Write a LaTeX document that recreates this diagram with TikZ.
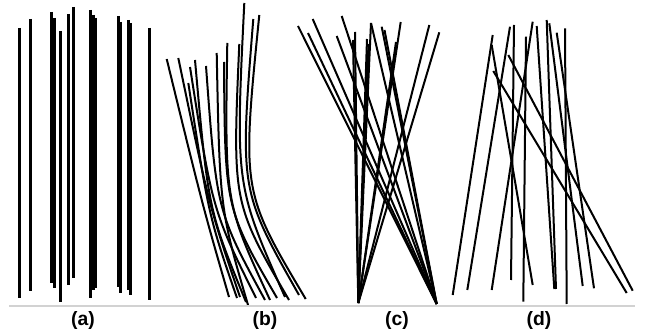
\documentclass[tikz,border=0pt]{standalone}
\usepackage{fontspec}
\setmainfont{Liberation Sans}
\definecolor{rulegray}{RGB}{210,210,210}
\newcommand{\bendln}[5]{%
  \pgfmathsetmacro{\cx}{#1 + #5*(#3-#1)}%
  \pgfmathsetmacro{\cy}{#2 + 0.62*(#4-#2)}%
  \draw[seg] (#1,#2) .. controls (\cx,\cy) .. (#3,#4);%
}

\begin{document}
\begin{tikzpicture}[x=0.75pt,y=-0.75pt,
  seg/.style={black,line width=1.5pt},
  barseg/.style={black,line width=2.25pt},
  baseln/.style={rulegray,line width=0.8pt},
  caption/.style={font=\fontsize{14.5}{16}\selectfont\bfseries,inner sep=0pt}]

  \useasboundingbox (0,0) rectangle (646,331);

  % (a) parallel segments
  \foreach \x/\t/\b in {19/28/298, 30.5/19/291, 51.5/12/283, 54/18/288,
      60.5/31/302, 68.5/14/285, 73.5/7/278, 90.5/10/298, 93/15/290,
      95.5/18/288, 118/16/287, 120.5/22/293, 128/20/290, 130.5/23/295,
      149/28/300}
    \draw[barseg] (\x,\t) -- (\x,\b);

  % (b) curved segments
  \foreach \tx/\ty/\bx/\by/\al in {166.7/59/229/297/0.58, 178.3/58/240/297/0.50,
      188.3/83/237/298/0.42, 190/67/256/298/0.34, 195/60/246/302/0.26,
      206/66/265/300/0.18, 216.7/53/248/305/0.10, 224/62/277/298/0.02,
      227.3/43/270/300/-0.06, 239.3/44/289/300/-0.14, 244.3/3/285/297/-0.22,
      253.3/19/299/295/-0.30, 259.3/15/305.7/299/-0.38}
    {\bendln{\tx}{\ty}{\bx}{\by}{\al}}

  % (c) two vanishing points
  \coordinate (vpl) at (358.3,303);
  \coordinate (vpr) at (436.7,304);
  \foreach \tx/\ty in {355/32, 353/40, 367/39, 368.5/44, 371/23, 396/42,
      400.7/22, 429.3/25, 439.3/32.3}
    \draw[seg] (\tx,\ty) -- (vpl);
  \foreach \tx/\ty in {298/26, 308/33, 312.7/19, 336.7/36, 341.7/16,
      371/23, 381.7/26.7, 384.5/30}
    \draw[seg] (\tx,\ty) -- (vpr);

  % (d) random segments
  \foreach \tx/\ty/\bx/\by in {492.7/35/452.7/295, 491.7/45/532.7/285,
      510/26.7/467.3/290, 514/25/511/280, 526/36.7/523.3/301.7,
      532.7/21.7/491.7/290, 536.7/26/554.3/289, 546.7/20/556/289,
      549.3/23.3/582.7/286, 556.7/32.7/594/288.3, 565/28.3/566.7/304,
      508.3/55/632.7/290.7, 493.3/71/626.7/293}
    \draw[seg] (\tx,\ty) -- (\bx,\by);

  % baseline and captions
  \coordinate (bl) at (9,306);
  \coordinate (br) at (635,306);
  \draw[baseln] (bl) -- (br);

  \node[caption] (capa) at (83,321) {(a)};
  \node[caption] (capb) at (265,321) {(b)};
  \node[caption] (capc) at (397,321) {(c)};
  \node[caption] (capd) at (539,321) {(d)};

\end{tikzpicture}
\end{document}
